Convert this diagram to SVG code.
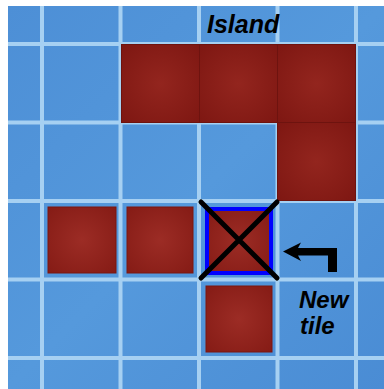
<svg xmlns="http://www.w3.org/2000/svg" width="384" height="389" viewBox="0 0 384 389">
<defs>
<linearGradient id="sea" x1="0" y1="0" x2="1" y2="1">
<stop offset="0" stop-color="#4d8fd6"/>
<stop offset="0.5" stop-color="#5599dc"/>
<stop offset="1" stop-color="#4a8cd4"/>
</linearGradient>
<radialGradient id="red" cx="0.5" cy="0.5" r="0.7">
<stop offset="0" stop-color="#93251e"/>
<stop offset="1" stop-color="#7e1712"/>
</radialGradient>
<radialGradient id="red2" cx="0.5" cy="0.5" r="0.7">
<stop offset="0" stop-color="#9c2c25"/>
<stop offset="1" stop-color="#851b15"/>
</radialGradient>
</defs>
<style>
.grid{stroke:#a6d0f2;stroke-width:4;fill:none}
.tile{fill:url(#red);stroke:#6e130f;stroke-width:1}
.stile{fill:url(#red2);stroke:#7a1610;stroke-width:1}
.lbl{font-family:"Liberation Sans",Arial,sans-serif;font-weight:bold;font-style:italic;font-size:24px;fill:#000}
</style>
<rect x="0" y="0" width="384" height="389" fill="#ffffff"/>
<rect x="8" y="6" width="376" height="383" fill="url(#sea)"/>
<g id="grid" class="grid">
<path d="M42 6V389M120.5 6V389M199 6V389M277.5 6V389M356 6V389"/>
<path d="M8 44H384M8 122.5H384M8 201H384M8 279.5H384M8 358H384"/>
</g>
<g id="island-1"><rect class="tile" x="121.5" y="44.5" width="78" height="78"/></g>
<g id="island-2"><rect class="tile" x="199.5" y="44.5" width="78" height="78"/></g>
<g id="island-3"><rect class="tile" x="277.5" y="44.5" width="78" height="78"/></g>
<g id="island-4"><rect class="tile" x="277.5" y="122.5" width="78" height="78"/></g>
<g id="tile-a"><rect class="stile" x="48" y="207" width="68" height="66"/></g>
<g id="tile-b"><rect class="stile" x="127" y="207" width="66" height="66"/></g>
<g id="tile-c"><rect class="stile" x="206" y="286" width="66" height="66"/></g>
<g id="new-tile">
<rect x="207" y="209" width="64" height="64" fill="url(#red2)" stroke="#0000ff" stroke-width="4"/>
<path d="M201 202L277 278M277 202L201 278" stroke="#000" stroke-width="5" stroke-linecap="round"/>
</g>
<g id="connectors">
<path d="M283 251.5L301 242.5L298 248H337V272H328V255.5H298L301 261Z" fill="#000"/>
</g>
<g id="labels">
<text class="lbl" x="207" y="33" style="font-size:25px">Island</text>
<text class="lbl" x="299" y="308">New</text>
<text class="lbl" x="300" y="334">tile</text>
</g>
</svg>
